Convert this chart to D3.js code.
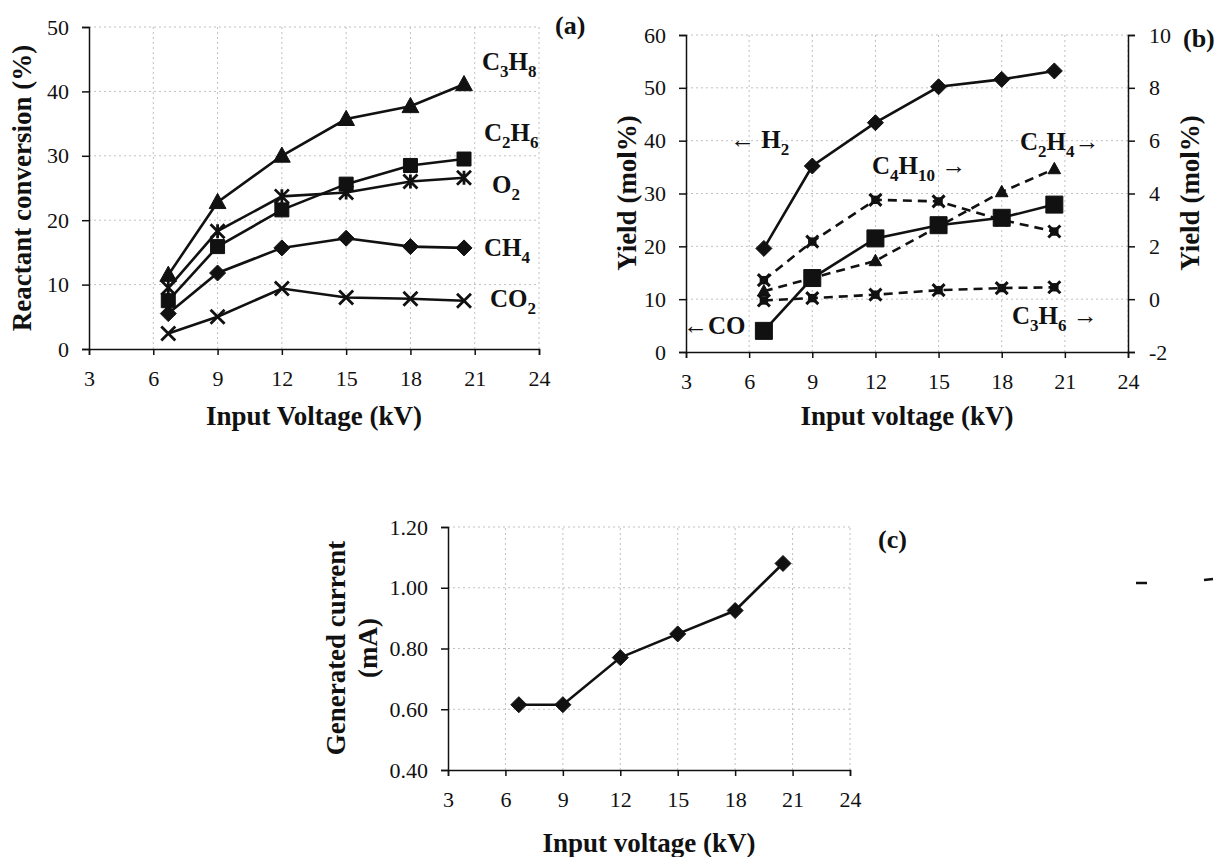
<!DOCTYPE html>
<html><head><meta charset="utf-8">
<script src="https://cdn.jsdelivr.net/npm/d3@7"></script>
<style>
body{margin:0;background:#fff;}
svg{display:block;font-family:"Liberation Serif","Times New Roman",serif;}
</style></head><body>
<svg id="chart" width="1218" height="857"></svg>
<script>
// ---------- data ----------
const voltage = [6.7, 9, 12, 15, 18, 20.5];
const xTicks = [3, 6, 9, 12, 15, 18, 21, 24];

// panel (a) reactant conversion (%)
const convC3H8 = [11.5, 22.8, 30.0, 35.7, 37.7, 41.1];
const convC2H6 = [7.5, 15.9, 21.6, 25.6, 28.5, 29.5];
const convO2   = [9.5, 18.3, 23.7, 24.3, 26.0, 26.6];
const convCH4  = [5.5, 11.8, 15.7, 17.2, 15.9, 15.7];
const convCO2  = [2.4, 5.0, 9.4, 8.0, 7.8, 7.5];
const yTicksA = [0, 10, 20, 30, 40, 50];

// panel (b) yield (mol%)
const yieldH2    = [19.6, 35.2, 43.4, 50.2, 51.6, 53.2];   // left axis
const yieldCO    = [4.0, 14.0, 21.5, 24.0, 25.4, 27.9];    // left axis
const yieldC4H10 = [0.72, 2.18, 3.76, 3.70, 3.0, 2.56];    // right axis
const yieldC2H4  = [0.3, 0.8, 1.45, 2.75, 4.06, 4.93];     // right axis
const yieldC3H6  = [-0.05, 0.04, 0.17, 0.34, 0.42, 0.45];  // right axis
const yTicksBL = [0, 10, 20, 30, 40, 50, 60];
const yTicksBR = [-2, 0, 2, 4, 6, 8, 10];

// panel (c) generated current (mA)
const current = [0.615, 0.615, 0.77, 0.848, 0.925, 1.08];
const yTicksC = [0.40, 0.60, 0.80, 1.00, 1.20];

// ---------- helpers ----------
const svg = d3.select("#chart");
const INK = "#111";
const GRID = "#c0c0c0";

function symPath(type, s) {
  switch (type) {
    case "square": return `M${-s},${-s}H${s}V${s}H${-s}Z`;
    case "diamond": return `M0,${-s}L${s},0L0,${s}L${-s},0Z`;
    case "triangle": return `M0,${-s * 1.1}L${s * 1.05},${s * 0.8}L${-s * 1.05},${s * 0.8}Z`;
    case "cross": return `M${-s},${-s}L${s},${s}M${-s},${s}L${s},${-s}`;
    case "star": return `M${-s},${-s}L${s},${s}M${-s},${s}L${s},${-s}M0,${-s}L0,${s}`;
    case "blob": return `M${-s},${-s}L${s},${s}M${-s},${s}L${s},${-s}`;
  }
}
function drawSeries(g, xs, ys, vals, opt) {
  const pts = vals.map((v, i) => [xs(voltage[i]), ys(v)]);
  g.append("path").attr("d", d3.line()(pts)).attr("fill", "none")
    .attr("stroke", INK).attr("stroke-width", opt.lw || 2.6)
    .attr("stroke-dasharray", opt.dash || null);
  const filled = ["square", "diamond", "triangle"].includes(opt.marker);
  const m = g.selectAll(null).data(pts).enter().append("g")
    .attr("transform", d => `translate(${d[0]},${d[1]})`);
  if (opt.marker === "blob") {
    m.append("rect").attr("x", -opt.size * 0.7).attr("y", -opt.size * 0.7)
      .attr("width", opt.size * 1.4).attr("height", opt.size * 1.4).attr("fill", INK);
  }
  m.append("path")
    .attr("d", symPath(opt.marker, opt.size))
    .attr("fill", filled ? INK : "none")
    .attr("stroke", INK)
    .attr("stroke-width", filled ? 1 : (opt.mw || 2.8));
}
function grid(g, xs, ys, xt, yt) {
  const [x0, x1] = xs.range(), [y0, y1] = ys.range();
  g.selectAll(null).data(yt.slice(1)).enter().append("line")
    .attr("x1", x0).attr("x2", x1).attr("y1", d => ys(d)).attr("y2", d => ys(d))
    .attr("stroke", GRID).attr("stroke-width", 1).attr("stroke-dasharray", "2,3");
  g.selectAll(null).data(xt.slice(1)).enter().append("line")
    .attr("x1", d => xs(d)).attr("x2", d => xs(d)).attr("y1", y0).attr("y2", y1)
    .attr("stroke", GRID).attr("stroke-width", 1).attr("stroke-dasharray", "2,3");
}
function styleAxis(sel) {
  sel.selectAll("path").attr("stroke", INK).attr("stroke-width", 1.5);
  sel.selectAll("line").attr("stroke", INK).attr("stroke-width", 1.5);
  sel.selectAll("text").attr("fill", INK).attr("font-size", 22)
    .attr("font-family", '"Liberation Serif","Times New Roman",serif');
}
const plain = d => String(d);
function axes(g, xs, ys, xt, yt, fmt) {
  const [y0] = ys.range(), [x0] = xs.range();
  g.append("g").attr("transform", `translate(0,${y0})`)
    .call(d3.axisBottom(xs).tickValues(xt).tickSizeOuter(0).tickSize(6).tickPadding(15).tickFormat(plain))
    .call(styleAxis);
  g.append("g").attr("transform", `translate(${x0},0)`)
    .call(d3.axisLeft(ys).tickValues(yt).tickSizeOuter(0).tickSize(7).tickPadding(13)
      .tickFormat(fmt || plain))
    .call(styleAxis);
}
function chem(g, x, y, str, fs, weight) {
  const t = g.append("text").attr("x", x).attr("y", y).attr("font-size", fs)
    .attr("font-weight", weight || "bold").attr("fill", INK);
  let shift = 0;
  str.split(/(\d+)/).forEach((part, i) => {
    if (!part) return;
    if (i % 2 === 1) {
      const d = fs * 0.28 - shift; shift = fs * 0.28;
      t.append("tspan").attr("font-size", fs * 0.68).attr("dy", d).text(part);
    } else {
      const d = -shift; shift = 0;
      t.append("tspan").attr("dy", d).text(part);
    }
  });
  return t;
}
function title(g, x, y, str, rot) {
  g.append("text").attr("x", 0).attr("y", 0)
    .attr("transform", `translate(${x},${y})` + (rot ? " rotate(-90)" : ""))
    .attr("text-anchor", "middle").attr("font-size", 27).attr("font-weight", "bold")
    .attr("fill", INK).text(str);
}

// ---------- panel (a) ----------
{
  const g = svg.append("g");
  const xs = d3.scaleLinear([3, 24], [89, 539]);
  const ys = d3.scaleLinear([0, 50], [349, 27]);
  grid(g, xs, ys, xTicks, yTicksA);
  axes(g, xs, ys, xTicks, yTicksA);
  drawSeries(g, xs, ys, convCO2, { marker: "cross", size: 7 });
  drawSeries(g, xs, ys, convCH4, { marker: "diamond", size: 8 });
  drawSeries(g, xs, ys, convO2, { marker: "star", size: 7 });
  drawSeries(g, xs, ys, convC2H6, { marker: "square", size: 7 });
  drawSeries(g, xs, ys, convC3H8, { marker: "triangle", size: 8 });
  chem(g, 482, 70, "C3H8", 25);
  chem(g, 484, 141, "C2H6", 25);
  chem(g, 492, 193, "O2", 25);
  chem(g, 484, 256, "CH4", 25);
  chem(g, 490, 307, "CO2", 25);
  g.append("text").attr("x", 555).attr("y", 34).attr("font-size", 26)
    .attr("font-weight", "bold").attr("fill", INK).text("(a)");
  title(g, 31, 188, "Reactant conversion (%)", true);
  title(g, 314, 425, "Input Voltage (kV)", false);
}

// ---------- panel (b) ----------
{
  const g = svg.append("g");
  const xs = d3.scaleLinear([3, 24], [686, 1128]);
  const yl = d3.scaleLinear([0, 60], [352, 35]);
  const yr = d3.scaleLinear([-2, 10], [352, 35]);
  grid(g, xs, yl, xTicks, yTicksBL);
  axes(g, xs, yl, xTicks, yTicksBL);
  g.append("g").attr("transform", `translate(1128,0)`)
    .call(d3.axisRight(yr).tickValues(yTicksBR).tickSizeOuter(0).tickSize(7).tickPadding(14)
      .tickFormat(plain))
    .call(styleAxis);
  drawSeries(g, xs, yr, yieldC3H6, { marker: "blob", size: 6, dash: "9,6", mw: 3 });
  drawSeries(g, xs, yr, yieldC2H4, { marker: "triangle", size: 6, dash: "9,6" });
  drawSeries(g, xs, yr, yieldC4H10, { marker: "blob", size: 6, dash: "9,6", mw: 3 });
  drawSeries(g, xs, yl, yieldCO, { marker: "square", size: 8.5 });
  drawSeries(g, xs, yl, yieldH2, { marker: "diamond", size: 8 });
  chem(g, 730, 148, "← H2", 25);
  chem(g, 872, 174, "C4H10 →", 25);
  chem(g, 1020, 150, "C2H4→", 25);
  chem(g, 1012, 324, "C3H6 →", 25);
  chem(g, 683, 334, "←CO", 25);
  g.append("text").attr("x", 1183).attr("y", 47).attr("font-size", 26)
    .attr("font-weight", "bold").attr("fill", INK).text("(b)");
  title(g, 636, 193, "Yield (mol%)", true);
  title(g, 1199, 193, "Yield (mol%)", true);
  title(g, 907, 425, "Input voltage (kV)", false);
}

// ---------- panel (c) ----------
{
  const g = svg.append("g");
  const xs = d3.scaleLinear([3, 24], [448, 850]);
  const ys = d3.scaleLinear([0.4, 1.2], [770, 527]);
  grid(g, xs, ys, xTicks, yTicksC);
  axes(g, xs, ys, xTicks, yTicksC, d3.format(".2f"));
  drawSeries(g, xs, ys, current, { marker: "diamond", size: 8 });
  g.append("text").attr("x", 878).attr("y", 548).attr("font-size", 26)
    .attr("font-weight", "bold").attr("fill", INK).text("(c)");
  title(g, 345, 648, "Generated current", true);
  title(g, 377, 648, "(mA)", true);
  title(g, 649, 852, "Input voltage (kV)", false);
}

// scan specks at the right edge
svg.append("line").attr("x1", 1136).attr("x2", 1147).attr("y1", 583).attr("y2", 583)
  .attr("stroke", INK).attr("stroke-width", 2.5);
svg.append("line").attr("x1", 1204).attr("x2", 1213).attr("y1", 580).attr("y2", 579)
  .attr("stroke", INK).attr("stroke-width", 2.5);
</script>
</body></html>
